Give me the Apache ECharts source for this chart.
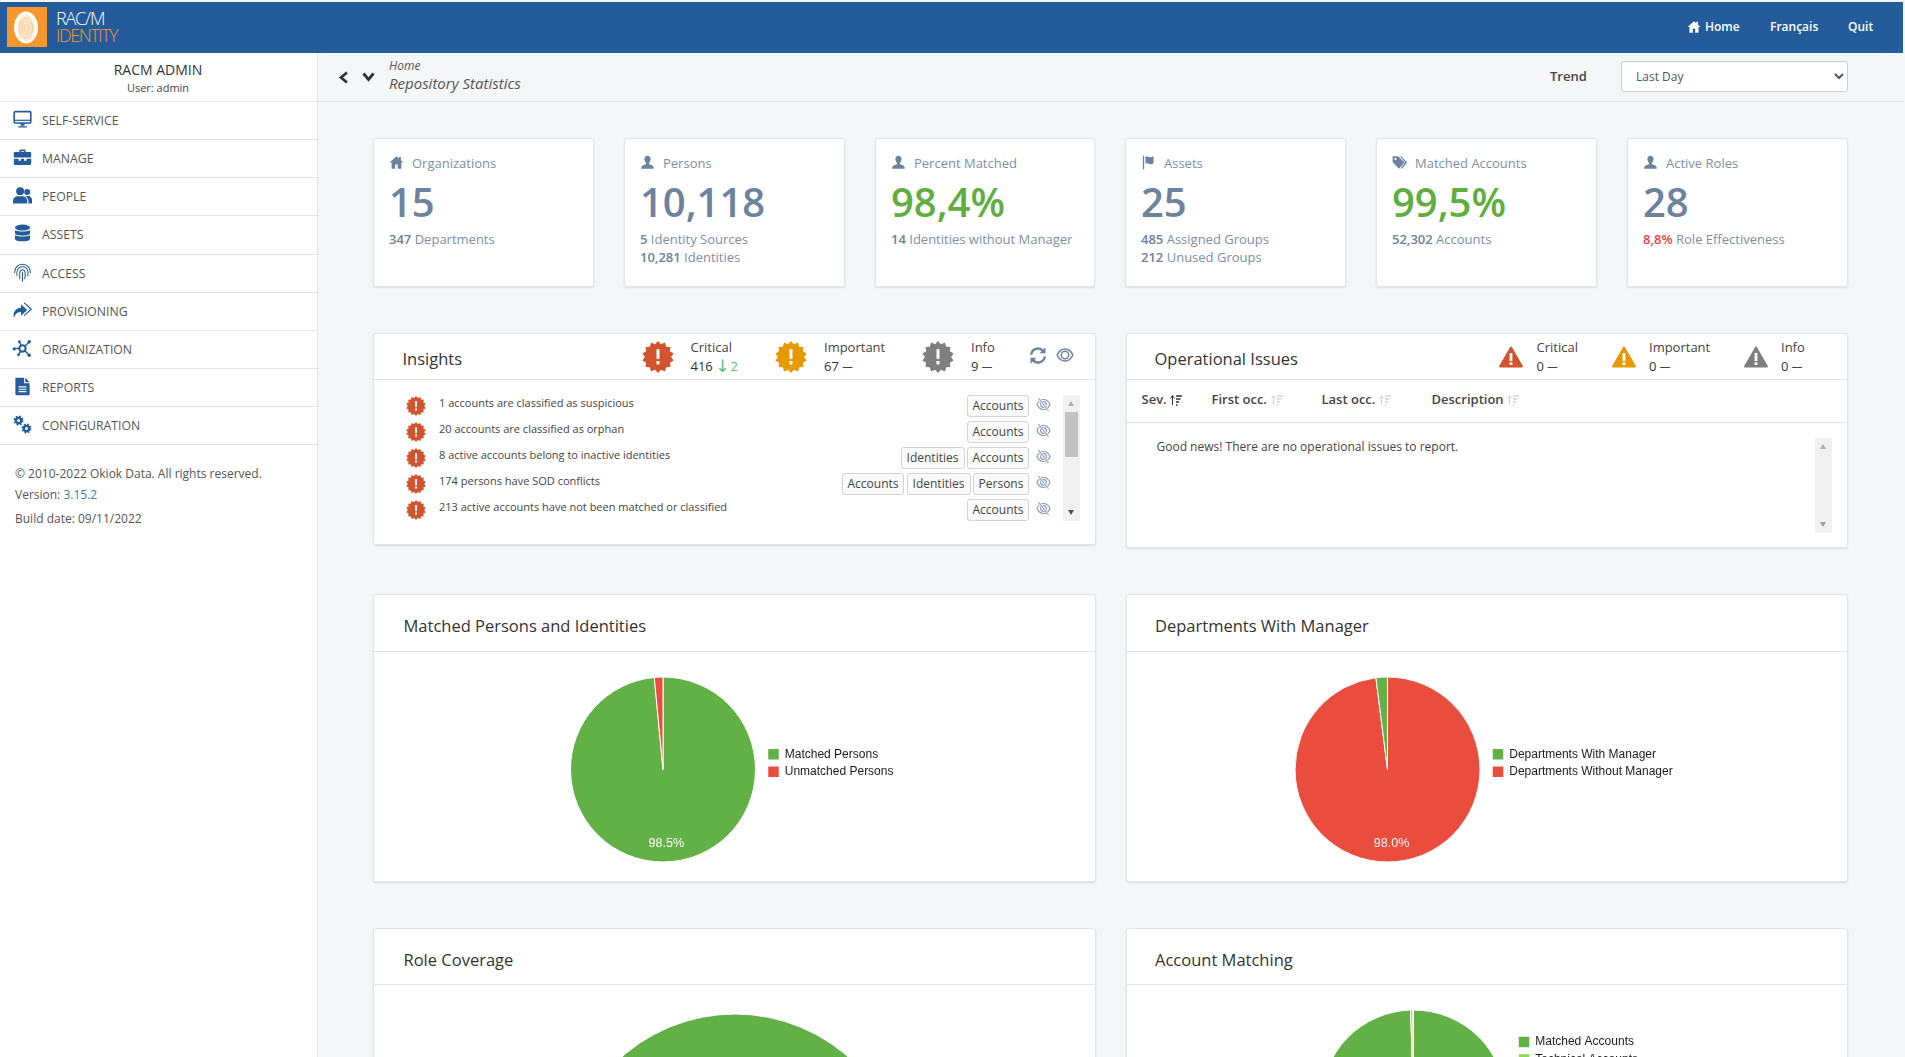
<!DOCTYPE html>
<html><head><meta charset="utf-8"><title>Repository Statistics</title>
<script src="https://cdn.jsdelivr.net/npm/echarts@6/dist/echarts.min.js"></script>
<style>
html,body{margin:0;padding:0;width:1905px;height:1057px;overflow:hidden;background:#f5f6f8;font-family:"Open Sans",sans-serif;color:#333}
#page{position:relative;width:1905px;height:1057px;overflow:hidden}
.a{position:absolute;white-space:nowrap}
.t{position:absolute;white-space:nowrap;transform:translateY(-50%);line-height:1.2}
.box{position:absolute;background:#fff;border:1px solid #e2e4e8;border-radius:3px;box-shadow:0 1px 2px rgba(0,0,0,.1);box-sizing:border-box}
.ln{position:absolute;height:1px;background:#e3e5e8}
.btn{position:absolute;box-sizing:border-box;border:1px solid #d4d4d4;border-radius:3px;background:#fafafa;font-size:12px;text-align:center;height:22px;line-height:20px;color:#444}
svg{position:absolute;overflow:visible}
.chart{position:absolute}
.tri{position:absolute;width:0;height:0;border-left:3.5px solid transparent;border-right:3.5px solid transparent}
</style></head><body><div id="page"></div>
<script>
// ---------- data ----------
const sideItems=["SELF-SERVICE","MANAGE","PEOPLE","ASSETS","ACCESS","PROVISIONING","ORGANIZATION","REPORTS","CONFIGURATION"];
const kpiTitles=["Organizations","Persons","Percent Matched","Assets","Matched Accounts","Active Roles"];
const kpiValues=["15","10,118","98,4%","25","99,5%","28"];
const kpiLine1=[["347","Departments"],["5","Identity Sources"],["14","Identities without Manager"],["485","Assigned Groups"],["52,302","Accounts"],["8,8%","Role Effectiveness"]];
const kpiLine2=[null,["10,281","Identities"],null,["212","Unused Groups"],null,null];
const insightTexts=["1 accounts are classified as suspicious","20 accounts are classified as orphan","8 active accounts belong to inactive identities","174 persons have SOD conflicts","213 active accounts have not been matched or classified"];
const insightTags=[["Accounts"],["Accounts"],["Identities","Accounts"],["Accounts","Identities","Persons"],["Accounts"]];
const tableHeads=["Sev.","First occ.","Last occ.","Description"];

const matchedNames=["Matched Persons","Unmatched Persons"];
const matchedValues=[98.5,1.5];
const deptLegend=["Departments With Manager","Departments Without Manager"];
const deptNames=["Departments Without Manager","Departments With Manager"];
const deptValues=[98.0,2.0];
const roleNames=["Covered Roles"];
const roleValues=[100];
const acctLegend=["Matched Accounts","Technical Accounts"];
const acctNames=["Matched Accounts","Other Accounts","Technical Accounts"];
const acctValues=[99.5,0.4,0.1];

// ---------- chrome helpers ----------
const BLUE="#245b9b",SLATE="#6c829d",SLATE2="#7d8ea6",GREEN="#5fae3f";
const page=document.getElementById("page");let html="";
const T=(x,y,s,css)=>{html+=`<div class="t" style="left:${x}px;top:${y}px;${css||""}">${s}</div>`};
const R=(x,y,w,h,css)=>{html+=`<div class="a" style="left:${x}px;top:${y}px;width:${w}px;height:${h}px;${css||""}"></div>`};
const BOX=(x,y,w,h)=>{html+=`<div class="box" style="left:${x}px;top:${y}px;width:${w}px;height:${h}px"></div>`};
const LN=(x,y,w)=>{html+=`<div class="ln" style="left:${x}px;top:${y}px;width:${w}px"></div>`};
const SVG=(x,y,w,h,vb,inner)=>{html+=`<svg style="left:${x}px;top:${y}px" width="${w}" height="${h}" viewBox="${vb}">${inner}</svg>`};
const I={
 home:c=>`<path fill="${c}" d="M12 2 1 12h3.2v10h5.8v-7h4v7h5.8V12H23l-4-3.6V3h-3v2.7z"/>`,
 user:c=>`<path fill="${c}" d="M12 1c3 0 5 2.400 5 5.500 0 2.500-1 4.500-2.500 6v2.200c3 1 7.500 1.800 7.500 6.300v1H2v-1c0-4.500 4.500-5.300 7.500-6.300v-2.200C8 11 7 9 7 6.500 7 3.400 9 1 12 1z"/>`,
 flag:c=>`<path fill="${c}" d="M3 1h2v22H3z"/><path fill="${c}" d="M7 3c3-1.500 5 1 8 .5 2-.3 4-1 5-1.500v11c-2 1.500-4 2-6 1.500-3-.8-4.500-2-7-.5z"/>`,
 tags:c=>`<path fill="${c}" d="M1 2h9l10 10-9 10L1 11z"/><path fill="${c}" d="M13 2h2l9 10-8 10-2-1 7-9z"/><circle cx="5.500" cy="6.500" r="1.800" fill="#fff"/>`,
 monitor:c=>`<rect x="1.500" y="2" width="21" height="14.500" rx="1.500" fill="none" stroke="${c}" stroke-width="2"/><path d="M2 13h20" stroke="${c}" stroke-width="1.500"/><path fill="${c}" d="M9.500 17h5v3h-5zM6.500 20.500h11V22h-11z"/>`,
 case:c=>`<path fill="${c}" d="M8 5V3.500C8 2.500 9 2 10 2h4c1 0 2 .5 2 1.500V5h5.500c.8 0 1.500.7 1.500 1.500V12H1V6.500C1 5.700 1.700 5 2.500 5zm2 0h4V4h-4zM1 13.500h6V16h3v-2.500h4V16h3v-2.500h6V20c0 .8-.7 1.500-1.500 1.500h-19C1.700 21.500 1 20.800 1 20z"/>`,
 people:c=>`<circle cx="9" cy="6.500" r="5" fill="${c}"/><circle cx="18" cy="7.500" r="3.800" fill="${c}"/><path fill="${c}" d="M0 22v-3c0-3.500 3-6 6-6h6c3 0 6 2.500 6 6v3z"/><path fill="${c}" d="M15.500 12.500h4c2.500 0 4.500 2.500 4.500 5v4.500h-4.500v-3c0-2.500-1.800-5-4-6.500z"/>`,
 db:c=>`<ellipse cx="12" cy="4.500" rx="9.500" ry="3.800" fill="${c}"/><path fill="${c}" d="M2.500 7.500C4.500 10 19.500 10 21.500 7.500v4.300c0 4-19 4-19 0zM2.500 14C4.500 16.500 19.500 16.500 21.500 14v4.500c0 4.500-19 4.500-19 0z"/>`,
 finger:c=>`<g fill="none" stroke="${c}" stroke-width="1.300" stroke-linecap="round"><path d="M2 12C2 6 6 1.500 12 1.500S22 6 22 12"/><path d="M5 16c-.3-2-.3-4 .2-5.500C6 7 8.500 4.800 12 4.800s6 2.200 6.800 5.700c.4 2 .3 3.500 0 5.500"/><path d="M8.500 20c.3-3-.3-6 .2-8 .4-2 1.600-3.500 3.300-3.500s3 1.500 3.300 3.500c.4 2.500 0 5.500-.5 8"/><path d="M12 23V12"/></g>`,
 share:c=>`<path fill="${c}" d="M1 21c-1-7 2-12 9-12.500V4l8 7.500-8 7V14c-4 0-7 2-9 7z"/><path fill="none" stroke="${c}" stroke-width="1.500" d="M14 2l9 8.500-9 8"/>`,
 org:c=>`<g stroke="${c}" stroke-width="1.800" fill="none"><path d="M12 12 8 3.500M12 12l8-8M12 12l8 8M12 12 7 20M12 12H2"/></g><circle cx="12" cy="12" r="4" fill="#fff" stroke="${c}" stroke-width="2.600"/><circle cx="1.500" cy="12.500" r="2" fill="${c}"/><circle cx="8" cy="3.500" r="1.800" fill="${c}"/><circle cx="20.500" cy="3.500" r="2.200" fill="${c}"/><circle cx="20.500" cy="20.500" r="2.200" fill="${c}"/><circle cx="7" cy="20" r="1.800" fill="${c}"/>`,
 file:c=>`<path fill="${c}" d="M4 1h10v7h7v13.500c0 .8-.7 1.500-1.500 1.500h-15c-.8 0-1.500-.7-1.500-1.500V2.500C3 1.700 3.200 1 4 1zM15.500 1 21 6.500h-5.500z"/><path stroke="#fff" stroke-width="1.500" d="M7 12.500h10M7 15.500h10M7 18.500h10"/>`,
 gears:c=>`<g fill="none" stroke="${c}"><circle cx="7" cy="7" r="3.300" stroke-width="2.800"/><circle cx="7" cy="7" r="5.300" stroke-width="2" stroke-dasharray="2.300 1.860"/><circle cx="17" cy="17" r="3.300" stroke-width="2.800"/><circle cx="17" cy="17" r="5.300" stroke-width="2" stroke-dasharray="2.300 1.860"/></g>`,
 refresh:c=>`<g fill="none" stroke="${c}" stroke-width="3.200"><path d="M3 11a9 9 0 0 1 15.500-5.500"/><path d="M21 13a9 9 0 0 1-15.500 5.500"/></g><path fill="${c}" d="M22 1v8h-8zM2 23v-8h8z"/>`,
 eye:c=>`<path fill="none" stroke="${c}" stroke-width="2" d="M1.500 12C4 6.500 8 4 12 4s8 2.500 10.500 8c-2.500 5.500-6.500 8-10.500 8S4 17.500 1.500 12z"/><circle cx="12" cy="12" r="5" fill="none" stroke="${c}" stroke-width="2"/>`,
 eyeOff:c=>`<path fill="none" stroke="${c}" stroke-width="1.900" d="M1.500 12C4 6.500 8 4 12 4s8 2.500 10.500 8c-2.500 5.500-6.500 8-10.500 8S4 17.500 1.500 12z"/><circle cx="12" cy="12" r="4.500" fill="none" stroke="${c}" stroke-width="1.900"/><path stroke="#fff" stroke-width="3.500" d="M4 2l16 20"/><path stroke="${c}" stroke-width="1.900" d="M4 2l16 20"/>`,
 sort:c=>`<path stroke="${c}" stroke-width="2" fill="none" d="M4 22V4M0 9l4-6 4 6"/><path stroke="${c}" stroke-width="2.800" d="M11 4h12M11 10h9M11 16h6M11 22h3"/>`
};
const burst=(cx,cy,r,fill)=>{let p=[];const n=14;for(let i=0;i<2*n;i++){const a=Math.PI*i/n-Math.PI/2,q=i%2?r*.82:r;p.push((cx+q*Math.cos(a)).toFixed(2)+","+(cy+q*Math.sin(a)).toFixed(2))}
 const v=r/16;SVG(cx-r,cy-r,2*r,2*r,`${cx-r} ${cy-r} ${2*r} ${2*r}`,`<polygon points="${p.join(" ")}" fill="${fill}"/><rect x="${cx-1.500*v}" y="${cy-8*v}" width="${3*v}" height="${10*v}" rx="${1*v}" fill="#fff"/><rect x="${cx-1.500*v}" y="${cy+4*v}" width="${3*v}" height="${3.400*v}" fill="#fff"/>`)};
const triangle=(cx,cy,fill)=>SVG(cx-12,cy-11,24,22,"0 0 24 22",`<path d="M12 1.500 23 20.500H1z" fill="${fill}" stroke="${fill}" stroke-width="2" stroke-linejoin="round"/><rect x="10.600" y="7" width="2.800" height="8" fill="#fff"/><rect x="10.600" y="16.300" width="2.800" height="2.700" fill="#fff"/>`);

// ---------- header ----------
R(0,2,1903,51,`background:${BLUE}`);
R(7,7,40,40,"background:#f7962a");
SVG(14,11,24,33,"0 0 24 33",`<ellipse cx="12" cy="16.500" rx="12" ry="16" fill="#fff"/><ellipse cx="12" cy="17" rx="9" ry="13" fill="#fdebd4"/><ellipse cx="12" cy="17" rx="6.500" ry="10" fill="none" stroke="#f9b871" stroke-width=".7"/><ellipse cx="12" cy="17" rx="4" ry="7" fill="none" stroke="#f9b871" stroke-width=".7"/><ellipse cx="12" cy="17" rx="1.800" ry="4" fill="none" stroke="#f9b871" stroke-width=".7"/>`);
T(56,18.500,"RAC/M","color:#fff;font-size:18px;font-weight:300;letter-spacing:-1.2px");
T(56,36,"IDENTITY","color:#f7962a;font-size:18px;font-weight:300;letter-spacing:-1.500px");
SVG(1687,20,14,14,"0 0 24 24",I.home("#fff"));
T(1705,27,"Home","color:#fff;font-size:12px;font-weight:600");
T(1770,27,"Français","color:#fff;font-size:12px;font-weight:600");
T(1848,27,"Quit","color:#fff;font-size:12px;font-weight:600");

// ---------- sidebar ----------
R(0,53,317,1004,"background:#fff;border-right:1px solid #e3e5e8");
T(158,70,`<span style="display:block;transform:translateX(-50%)">RACM ADMIN</span>`,"font-size:14px;color:#333");
T(158,88,`<span style="display:block;transform:translateX(-50%)">User: admin</span>`,"font-size:11px;color:#444");
LN(0,101,317);
const sideIcons=["monitor","case","people","db","finger","share","org","file","gears"];
const sideY=[120,158,196,234,273,311,349,387,425];
const sideLine=[139,177,215,254,292,330,368,406,444];
sideItems.forEach((s,i)=>{SVG(13,sideY[i]-10,19,19,"0 0 24 24",I[sideIcons[i]](BLUE));T(42,sideY[i]+1,s,"font-size:12.250px;color:#555");LN(0,sideLine[i],317)});
T(15,474,"© 2010-2022 Okiok Data. All rights reserved.","font-size:12px;color:#555");
T(15,495,`Version: <span style="color:#337ab7">3.15.2</span>`,"font-size:12px;color:#555");
T(15,519,"Build date: 09/11/2022","font-size:12px;color:#555");

// ---------- breadcrumb ----------
LN(318,101,1585);
SVG(338,71,11,13,"0 0 11 13",`<path d="M9 1.500 3 6.500l6 5" fill="none" stroke="#333" stroke-width="2.800"/>`);
SVG(362,72,13,10,"0 0 13 10",`<path d="M1.500 1.500l5 6 5-6" fill="none" stroke="#333" stroke-width="2.800"/>`);
T(389,66,"Home","font-size:12px;font-style:italic;color:#555");
T(389,83,"Repository Statistics","font-size:15px;font-style:italic;color:#555");
T(1550,76.500,"Trend","font-size:13px;font-weight:600;color:#444");
html+=`<select style="position:absolute;left:1621px;top:61px;width:227px;height:31px;box-sizing:border-box;border:1px solid #ccc;border-radius:3px;background:#fff;font:12px 'Open Sans';color:#555;padding-left:10px"><option>Last Day</option></select>`;

// ---------- KPI cards ----------
const cardX=[373,624,875,1125,1376,1627];
const cardW=[221,221,220,221,221,221];
const kpiIcons=["home","user","user","flag","tags","user"];
const kpiColor=[SLATE,SLATE,GREEN,SLATE,GREEN,SLATE];
const subLine=(x,y,p,c)=>T(x,y,`<span style="font-weight:600;color:${c||SLATE}">${p[0]}</span> ${p[1]}`,`font-size:13px;color:${SLATE2}`);
kpiTitles.forEach((s,i)=>{const x=cardX[i];BOX(x,138,cardW[i],149);
 SVG(x+16,155,15,15,"0 0 24 24",I[kpiIcons[i]](SLATE));
 T(x+39,164,s,`font-size:13px;color:${SLATE2}`);
 T(x+16,202,kpiValues[i],`font-size:40px;color:${kpiColor[i]};font-weight:600`);
 subLine(x+16,240,kpiLine1[i],i==5?"#e8424e":null);
 if(kpiLine2[i])subLine(x+16,258,kpiLine2[i]);
});

// ---------- insights ----------
BOX(373,333,722.5,212);LN(373,378.500,722.5);
T(402.500,358.500,"Insights","font-size:16.500px;color:#333");
const dash=`<span style="color:#444;font-size:10.500px;font-weight:600">—</span>`;
const arrow=`<span style="color:#62bb80"><span style="font:17px/0 'DejaVu Sans';margin:0 1px 0 -1px;vertical-align:-1px">↓</span>2</span>`;
[[657.500,690.500,"Critical",`416 ${arrow}`,"#d2542f"],[791,824,"Important",`67 ${dash}`,"#e69a00"],[938,971,"Info",`9 ${dash}`,"#7f7f7f"]].forEach(a=>{
 burst(a[0],356.500,16,a[4]);T(a[1],348,a[2],"font-size:13px;color:#444");T(a[1],367,a[3],"font-size:13px;color:#333")});
SVG(1029,346,18,19,"0 0 24 24",I.refresh(SLATE));SVG(1054.5,346,20,18,"0 0 24 24",I.eye(SLATE));
const rowsY=[406,432,458,484,510];
const tagW={Accounts:62,Identities:64,Persons:56};
insightTexts.forEach((s,i)=>{burst(416,rowsY[i],10,"#d2542f");T(439,rowsY[i]-3,s,"font-size:11px;color:#444");
 let right=1029;[...insightTags[i]].reverse().forEach(g=>{const w=tagW[g];html+=`<div class="btn" style="left:${right-w}px;top:${rowsY[i]-11}px;width:${w}px">${g}</div>`;right-=w+2.500});
 SVG(1036,rowsY[i]-9,15,15,"0 0 24 24",I.eyeOff("#8a9bb2"))});
R(1063,395,17,126,"background:#f1f1f1");R(1065,412,13,45,"background:#c1c1c1");
html+=`<div class="tri" style="left:1068px;top:401px;border-bottom:5px solid #b0b0b0"></div><div class="tri" style="left:1068px;top:510px;border-top:5px solid #505050"></div>`;

// ---------- operational issues ----------
BOX(1126,333,722,215);LN(1126,378.500,722);LN(1126,421.500,722);
T(1154.500,358.500,"Operational Issues","font-size:16.500px;color:#333");
[[1511,1536.500,"Critical","#d2542f"],[1624,1649,"Important","#e69a00"],[1755.500,1781,"Info","#7f7f7f"]].forEach(a=>{
 triangle(a[0],357,a[3]);T(a[1],348,a[2],"font-size:13px;color:#444");T(a[1],367,`0 ${dash}`,"font-size:13px;color:#333")});
const headX=[1141.500,1211.500,1321.500,1431.500],sortX=[1170,1271,1379,1507];
tableHeads.forEach((s,i)=>{T(headX[i],399.500,s,"font-size:13px;font-weight:600;color:#444");SVG(sortX[i],393.500,13,12,"0 0 24 24",I.sort(i?"#d4d4d4":"#333"))});
T(1156.500,447,"Good news! There are no operational issues to report.","font-size:12px;color:#444");
R(1815,438,17,95,"background:#f1f1f1");
html+=`<div class="tri" style="left:1820px;top:444px;border-bottom:5px solid #b0b0b0"></div><div class="tri" style="left:1820px;top:522px;border-top:5px solid #a0a0a0"></div>`;

// ---------- pie panels ----------
BOX(373,594,722.5,288);LN(373,651,722.5);T(403.500,625.500,"Matched Persons and Identities","font-size:16.500px;color:#333");
BOX(1126,594,722,288);LN(1126,651,722);T(1155,625.500,"Departments With Manager","font-size:16.500px;color:#333");
BOX(373,928,722.5,300);LN(373,984,722.5);T(403.500,959.500,"Role Coverage","font-size:16.500px;color:#333");
BOX(1126,928,722,300);LN(1126,984,722);T(1155,959.500,"Account Matching","font-size:16.500px;color:#333");
const mk=(id,x,y,w,h)=>{html+=`<div id="${id}" class="chart" style="left:${x}px;top:${y}px;width:${w}px;height:${h}px"></div>`};
mk("c1",375,652,719,229);mk("c2",1127,652,720,229);mk("c3",375,986,719,400);mk("c4",1127,986,720,400);
page.innerHTML=html;

// ---------- charts ----------
const CG="#62b146",CR="#ea4d3d",CL="#8cd84e",CO="#e6a23c";
const pie=(id,names,values,colors,legendNames,cx,cy,r,lx,ly,lab)=>{
 const c=echarts.init(document.getElementById(id),null,{renderer:"canvas"});
 c.setOption({animation:false,
  legend:legendNames?{show:true,orient:"vertical",left:lx,top:ly,itemWidth:12.5,itemHeight:12.5,itemGap:3,padding:0,icon:"rect",selectedMode:false,silent:true,data:legendNames,
   textStyle:{fontFamily:"Liberation Sans",fontSize:12,color:"#1a1a1a"}}:{show:false},
  series:[{type:"pie",center:[cx,cy],radius:[0,r],silent:true,startAngle:90,clockwise:true,avoidLabelOverlap:false,
   itemStyle:{borderColor:"#fff",borderWidth:1},
   label:{show:true,position:"inside",color:"#fff",fontFamily:"Liberation Sans",fontSize:12.5,formatter:p=>p.value.toFixed(1)+"%"},
   labelLine:{show:false},
   labelLayout:lab||{},
   data:names.map((n,i)=>({name:n,value:values[i],itemStyle:{color:colors[i]},label:{show:values[i]>50&&!!lab}}))}]});
};
pie("c1",matchedNames,matchedValues,[CG,CR],matchedNames,288,117.500,92.500,391.25,95,{dy:25,dx:1});
pie("c2",deptNames,deptValues,[CR,CG],deptLegend,260.5,117.500,92.500,363.75,95,{dy:25,dx:1});
pie("c3",roleNames,roleValues,[CG],null,360,199,171,0,0,null);
pie("c4",acctNames,acctValues,[CG,CO,CL],acctLegend,286.500,116.500,92.500,389.75,48.75,null);
</script></body></html>
